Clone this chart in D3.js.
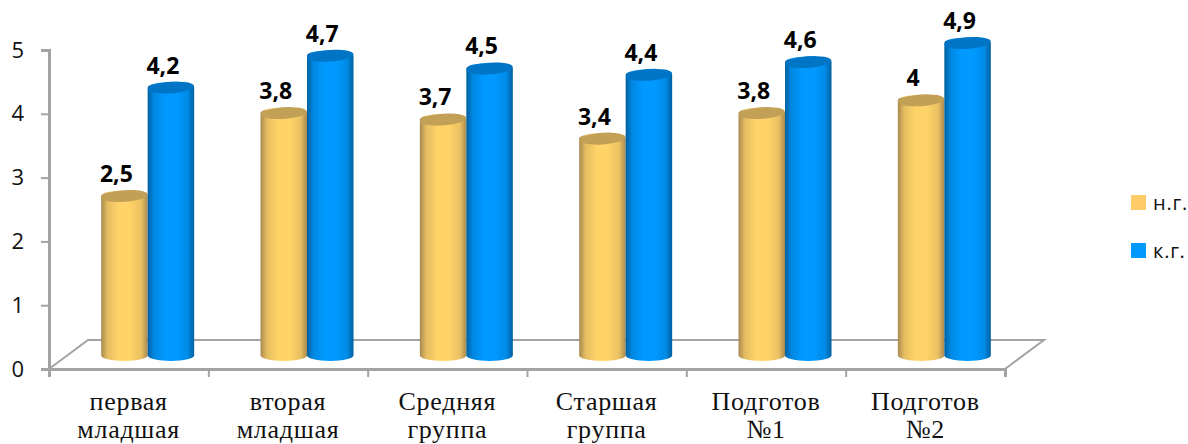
<!DOCTYPE html>
<html>
<head>
<meta charset="utf-8">
<script src="https://cdn.jsdelivr.net/npm/d3@7"></script>
<style>
  html, body { margin: 0; padding: 0; background: #fff; }
  svg { display: block; }
</style>
</head>
<body>
<svg id="chart"></svg>
<script>
// Data
const categories = [
  ["первая", "младшая"],
  ["вторая", "младшая"],
  ["Средняя", "группа"],
  ["Старшая", "группа"],
  ["Подготов", "№1"],
  ["Подготов", "№2"]
];
const startValues = [2.5, 3.8, 3.7, 3.4, 3.8, 4];
const endValues = [4.2, 4.7, 4.5, 4.4, 4.6, 4.9];
const seriesNames = ["н.г.", "к.г."];
const yTicks = [0, 1, 2, 3, 4, 5];

const width = 1188;
const height = 444;

const svg = d3.select("#chart").attr("width", width).attr("height", height);

// Scales: front plane for the axes, shifted plane for the cylinders
const x = d3.scaleBand().domain(d3.range(categories.length)).range([49, 1005]);
const xEdge = d3.scaleLinear().domain([0, categories.length]).range([49, 1005]);
const y = d3.scaleLinear().domain([0, 5]).range([369, 50]);
const yBar = d3.scaleLinear().domain([0, 5]).range([355.4, 36.6]);

const barW = 46.5;
const depth = { dx: 39, dy: -29 };
const axisColor = "#a3a3a3";
const axisFont = "'Open Sans', 'Noto Sans', sans-serif";

// Gradients for the cylinders
const defs = svg.append("defs");
const palette = [
  { id: "bar0", edge: "#a98a50", mid: "#ffd368", top: "#c2a056" },
  { id: "bar1", edge: "#00609f", mid: "#0099ff", top: "#0075c6" }
];
palette.forEach(p => {
  const g = defs.append("linearGradient").attr("id", p.id)
    .attr("x1", "0%").attr("x2", "100%").attr("y1", "0%").attr("y2", "0%");
  const mix = d3.interpolateRgb(p.edge, p.mid);
  [[0, p.edge], [0.14, mix(0.7)], [0.38, p.mid], [0.62, p.mid], [0.86, mix(0.75)], [1, p.edge]]
    .forEach(s => g.append("stop").attr("offset", s[0]).attr("stop-color", s[1]));
});

// Floor of the 3D box
const x0 = xEdge(0), x1 = xEdge(categories.length), y0 = y(0);
svg.append("path")
  .attr("d", d3.line()([[x0, y0], [x0 + depth.dx, y0 + depth.dy], [x1 + depth.dx, y0 + depth.dy], [x1, y0]]))
  .attr("fill", "none")
  .attr("stroke", axisColor)
  .attr("stroke-width", 2);

// Axes
const yAxis = svg.append("g")
  .attr("transform", `translate(${x0},0)`)
  .call(d3.axisLeft(y).tickValues(yTicks).tickSize(8).tickPadding(17).tickFormat(d3.format("d")));
yAxis.selectAll("text").attr("font-family", axisFont).attr("font-size", 22).attr("fill", "#111");

const xAxis = svg.append("g")
  .attr("transform", `translate(0,${y0})`)
  .call(d3.axisBottom(xEdge).tickValues(d3.range(categories.length + 1)).tickSize(8).tickFormat(""));

[yAxis, xAxis].forEach(a => {
  a.selectAll("line").attr("stroke", axisColor).attr("stroke-width", 2);
  a.select(".domain").attr("stroke", axisColor).attr("stroke-width", 3);
});

// Category labels
svg.append("g").selectAll("text")
  .data(categories)
  .join("text")
  .attr("text-anchor", "middle")
  .attr("font-family", "'Liberation Serif', serif")
  .attr("font-size", 26)
  .attr("letter-spacing", 0.7)
  .attr("fill", "#111")
  .each(function (d, i) {
    d3.select(this).selectAll("tspan")
      .data(d)
      .join("tspan")
      .attr("x", x(i) + x.bandwidth() / 2)
      .attr("y", (t, j) => 410 + j * 28)
      .text(t => t);
  });

// Cylinders
function cylinder(cx, top, bottom, rx, ry) {
  return `M${cx - rx},${top}L${cx - rx},${bottom}` +
    `A${rx},${ry} 0 0 0 ${cx + rx},${bottom}L${cx + rx},${top}` +
    `A${rx},${ry} 0 0 0 ${cx - rx},${top}Z`;
}

[startValues, endValues].forEach((values, s) => {
  const p = palette[s];
  const g = svg.append("g");
  values.forEach((v, i) => {
    const cx = x(i) + x.bandwidth() / 2 + (s === 0 ? -barW / 2 + 19 : barW / 2 + 19);
    const top = yBar(v);
    g.append("path")
      .attr("d", cylinder(cx, top, yBar(0), barW / 2, 5.5))
      .attr("fill", `url(#${p.id})`);
    g.append("ellipse")
      .attr("cx", cx)
      .attr("cy", top)
      .attr("rx", barW / 2)
      .attr("ry", 5.8)
      .attr("transform", `rotate(-4,${cx},${top})`)
      .attr("fill", p.top);
  });
});

// Value labels
[startValues, endValues].forEach((values, s) => {
  svg.append("g").selectAll("text")
    .data(values)
    .join("text")
    .attr("x", (d, i) => x(i) + x.bandwidth() / 2 + (s === 0 ? -barW / 2 + 11 : barW / 2 + 11))
    .attr("y", d => yBar(d) - 14)
    .attr("text-anchor", "middle")
    .attr("font-family", axisFont)
    .attr("font-weight", 700)
    .attr("font-size", 23)
    .attr("fill", "#000")
    .text(d => String(d).replace(".", ","));
});

// Legend
const legendY = d3.scalePoint().domain(seriesNames).range([202.5, 250.5]);
const legend = svg.append("g").selectAll("g")
  .data(seriesNames)
  .join("g")
  .attr("transform", d => `translate(1131,${legendY(d)})`);
legend.append("rect")
  .attr("y", -7.5)
  .attr("width", 15)
  .attr("height", 15)
  .attr("fill", (d, i) => i === 0 ? "#ffcb66" : "#0099ff");
legend.append("text")
  .attr("x", 22)
  .attr("y", 7)
  .attr("font-family", axisFont)
  .attr("font-size", 20)
  .attr("letter-spacing", 0.8)
  .attr("fill", "#111")
  .text(d => d);
</script>
</body>
</html>
